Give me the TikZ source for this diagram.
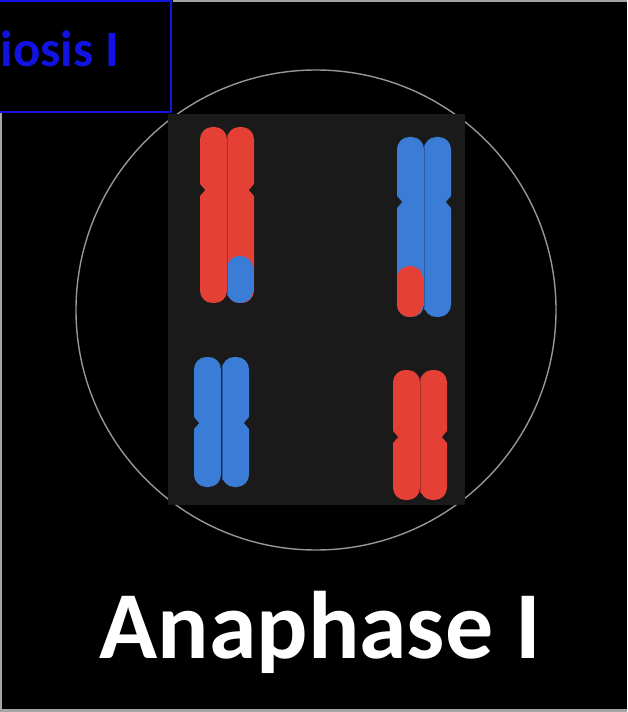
\documentclass[tikz,border=0pt]{standalone}
\usepackage{fontspec}
\setmainfont{Carlito}

\definecolor{chrred}{RGB}{228,64,54}
\definecolor{chrblue}{RGB}{58,124,214}
\definecolor{spindlegray}{RGB}{150,150,150}
\definecolor{panelgray}{RGB}{26,26,26}
\definecolor{labelblue}{RGB}{18,18,225}
\definecolor{framegray}{RGB}{165,165,165}

\tikzset{
	chromatid/.style={rounded corners=7pt},
	notch/.style={fill=panelgray},
	seam/.style={line width=0.4pt},
}

% one chromatid: left x, top y, bottom y, colour
\newcommand{\chromatid}[4]{%
	\fill[chromatid,#4] (#1,#2) rectangle (#1+27,#3);
}
% centromere notches: left x, right x, centromere y
\newcommand{\pinch}[3]{%
	\fill[notch] (#1-1,#3-7) -- (#1+5,#3) -- (#1-1,#3+7) -- cycle;
	\fill[notch] (#2+1,#3-7) -- (#2-5,#3) -- (#2+1,#3+7) -- cycle;
}

\begin{document}
\begin{tikzpicture}[x=0.02cm,y=-0.02cm]
	\useasboundingbox (0,0) rectangle (627,712);
	\fill[black] (0,0) rectangle (627,712);
	% slide frame
	\draw[framegray, line width=1.7pt] (173,1) -- (627,1);
	\draw[framegray, line width=1.7pt] (1,113) -- (1,712);
	\draw[framegray, line width=1.7pt] (0,710) -- (627,710);
	% stage label, cut at the left edge
	\draw[labelblue, line width=1.5pt] (-10,1) rectangle (171,112);
	\node[text=labelblue, font=\fontsize{29}{34}\selectfont\bfseries, inner sep=0pt, anchor=base east] (stage) at (119,67) {iosis I};

	% cell and spindle area
	\draw[spindlegray, line width=0.8pt] (316,310) circle [radius=240];
	\fill[panelgray] (168,114) rectangle (465,505);

	% top left, red with blue tip
	\chromatid{200}{127}{303}{chrred}
	\chromatid{227}{127}{303}{chrred}
	\fill[chromatid, chrblue] (227,256) rectangle (253,303);
	\draw[seam, chrred!75!black] (227,135) -- (227,296);
	\pinch{200}{254}{190}

	% top right, blue with red tip
	\chromatid{397}{137}{317}{chrblue}
	\chromatid{424}{137}{317}{chrblue}
	\fill[chromatid, chrred] (397,266) rectangle (423,317);
	\draw[seam, chrblue!75!black] (424,145) -- (424,310);
	\pinch{397}{451}{202}

	% bottom left, blue
	\chromatid{194}{357}{487}{chrblue}
	\chromatid{222}{357}{487}{chrblue}
	\draw[seam, chrblue!75!black] (222,365) -- (222,480);
	\pinch{194}{249}{423}

	% bottom right, red
	\chromatid{393}{370}{500}{chrred}
	\chromatid{420}{370}{500}{chrred}
	\draw[seam, chrred!75!black] (420,378) -- (420,493);
	\pinch{393}{447}{437}

	\node[text=white, font=\fontsize{54.6}{62}\selectfont\bfseries, inner sep=0pt, anchor=base] (title) at (320,658) {Anaphase I};
\end{tikzpicture}
\end{document}
